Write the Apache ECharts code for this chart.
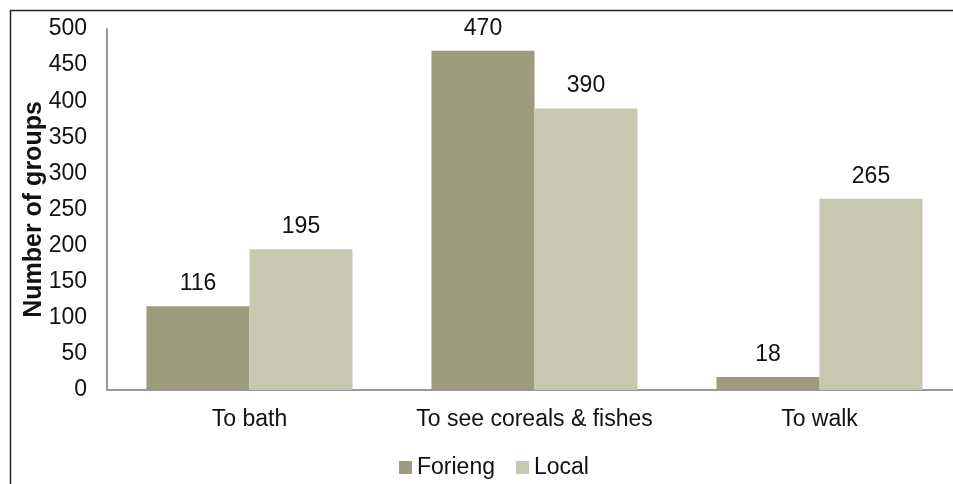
<!DOCTYPE html>
<html>
<head>
<meta charset="utf-8">
<script src="https://cdn.jsdelivr.net/npm/echarts@6/dist/echarts.min.js"></script>
<style>
  html, body { margin: 0; padding: 0; background: #fff; }
  #chart { width: 953px; height: 484px; }
</style>
</head>
<body>
<div id="chart"></div>
<script>
// categories and values
const categories = ["To bath", "To see coreals & fishes", "To walk"];
const foreign = [116, 470, 18];
const local = [195, 390, 265];
const yTicks = [0, 500, 50]; // min, max, interval

const font = "Liberation Sans, Arial, sans-serif";
const chart = echarts.init(document.getElementById("chart"));

const option = {
  animation: false,
  textStyle: { fontFamily: font },
  // outer frame of the picture (only left and top edges show)
  graphic: [
    {
      type: "rect",
      left: 8,
      top: 8,
      shape: { width: 1200, height: 800 },
      style: { fill: "none", stroke: "#222", lineWidth: 1.5 },
      silent: true,
    },
  ],
  // plot runs a little past the right edge of the picture
  grid: { left: 107, width: 855, top: 29, bottom: 94, outerBoundsMode: "none", containLabel: false },
  legend: {
    bottom: 0,
    left: 394,
    itemWidth: 13,
    itemHeight: 13,
    itemGap: 21,
    icon: "rect",
    textStyle: { fontSize: 23, color: "#111", fontFamily: font },
    data: ["Forieng", "Local"],
  },
  xAxis: {
    type: "category",
    data: categories,
    axisLine: { lineStyle: { color: "#999", width: 2 } },
    axisTick: { show: false },
    axisLabel: { fontSize: 23, color: "#111", margin: 18, interval: 0 },
  },
  yAxis: {
    type: "value",
    min: yTicks[0],
    max: yTicks[1],
    interval: yTicks[2],
    name: "Number of groups",
    nameLocation: "middle",
    nameGap: 60,
    nameMoveOverlap: false,
    nameTextStyle: { fontSize: 25, fontWeight: "bold", color: "#111" },
    axisLine: { show: true, lineStyle: { color: "#999", width: 2 } },
    axisTick: { show: false },
    splitLine: { show: false },
    axisLabel: { fontSize: 23, color: "#111", margin: 20 },
  },
  series: [
    {
      name: "Forieng",
      type: "bar",
      data: foreign,
      barGap: "0%",
      barCategoryGap: "27.7%",
      itemStyle: { color: "#9d9b7d" },
      label: { show: true, position: "top", distance: 11, fontSize: 23, color: "#111" },
    },
    {
      name: "Local",
      type: "bar",
      data: local,
      itemStyle: { color: "#c8c8b2" },
      label: { show: true, position: "top", distance: 11, fontSize: 23, color: "#111" },
    },
  ],
};

chart.setOption(option);
</script>
</body>
</html>
